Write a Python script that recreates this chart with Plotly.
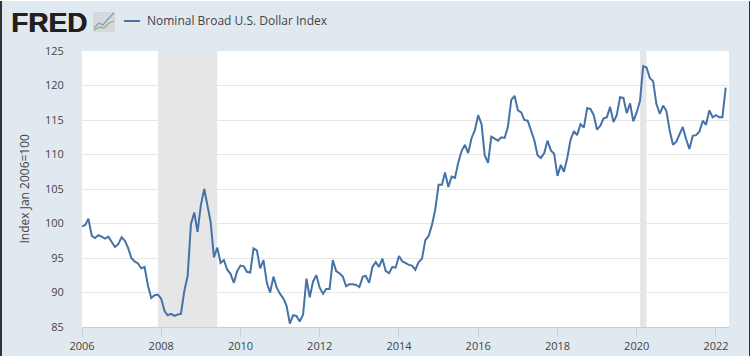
import plotly.graph_objects as go
import pandas as pd

start_month = "2006-01-01"
series_name = "Nominal Broad U.S. Dollar Index"
values = [
 99.6,99.8,100.7,98.2,97.9,98.3,98.1,97.8,98.1,97.4,96.6,97.0,
 98.0,97.5,96.5,95.0,94.5,94.2,93.5,93.7,91.0,89.2,89.6,89.7,
 89.1,87.3,86.7,86.9,86.6,86.8,86.9,90.2,92.4,99.9,101.6,98.8,
 102.7,105.0,102.6,100.2,95.1,96.5,94.3,94.7,93.3,92.7,91.4,93.1,
 93.9,93.8,93.0,92.9,96.4,96.1,93.5,94.7,91.4,90.0,92.3,90.7,
 89.8,89.1,88.1,85.5,86.7,86.6,85.8,86.8,92.0,89.3,91.6,92.5,
 90.7,89.8,90.5,90.5,94.7,93.1,92.8,92.3,90.9,91.2,91.2,91.1,
 90.8,92.3,92.4,91.4,93.7,94.4,93.7,94.9,93.1,92.8,93.7,93.6,
 95.3,94.5,94.3,94.0,93.9,93.3,94.4,94.9,97.6,98.2,99.8,102.0,
 105.6,105.6,107.4,105.3,106.8,106.6,108.8,110.5,111.4,110.2,112.4,113.5,
 115.7,114.4,109.9,108.8,112.6,112.3,112.0,112.5,112.4,114.0,117.9,118.5,
 116.4,116.1,115.0,114.9,113.4,112.1,109.9,109.5,110.2,112.0,110.6,110.1,
 106.9,108.5,107.5,109.5,112.1,113.4,112.8,114.4,113.9,116.7,116.6,115.7,
 113.6,114.2,115.2,115.4,116.9,114.7,115.7,118.3,118.2,116.0,117.4,114.8,
 116.1,117.8,122.8,122.6,121.1,120.6,117.3,115.9,117.1,116.3,113.4,111.4,
 111.9,113.0,114.0,112.2,110.8,112.7,112.8,113.3,114.9,114.3,116.4,115.4,
 115.7,115.4,115.4,119.7,
]
dates = pd.date_range(start_month, periods=len(values), freq="MS")
recessions = [("2007-12-01", "2009-06-01"), ("2020-02-01", "2020-04-01")]
tick_years = list(range(2006, 2023, 2))
y_ticks = [85, 90, 95, 100, 105, 110, 115, 120, 125]
y_title = "Index Jan 2006=100"

W, H = 750, 356
ML, MR, MT, MB = 82, 21, 51, 29
PW, PH = W - ML - MR, H - MT - MB
def px(x): return (x - ML) / PW
def py(y): return 1 - (y - MT) / PH

BG = "#E1E9F0"
TXT = "#444444"
LINE = "#4572A7"
fig = go.Figure()
fig.add_trace(go.Scatter(x=dates, y=values, mode="lines", name=series_name,
                         line=dict(color=LINE, width=2), showlegend=False))

def pshape(**kw):
    return dict(xref="paper", yref="paper", **kw)

def path(points):
    return "M " + " L ".join(f"{px(x):.5f} {py(y):.5f}" for x, y in points)

deco = [
    pshape(type="rect", x0=px(0), x1=px(2), y0=py(0), y1=py(H), fillcolor="#333333", line=dict(width=0)),
    pshape(type="rect", x0=px(749), x1=px(750), y0=py(0), y1=py(H), fillcolor="#333333", line=dict(width=0)),
    pshape(type="rect", x0=px(0), x1=px(W), y0=py(0), y1=py(1), fillcolor="#FFFFFF", line=dict(width=0)),
    pshape(type="rect", x0=px(93), x1=px(115), y0=py(12), y1=py(32), fillcolor="#D5D9DB", line=dict(width=0)),
    pshape(type="path", path=path([(94, 28), (99, 23), (103, 25), (108, 19), (114, 13)]),
           line=dict(color="#7F9DB9", width=1.2)),
    pshape(type="path", path=path([(94, 30), (100, 27), (104, 28), (109, 23), (114, 21)]),
           line=dict(color="#8FB07A", width=1.2)),
    pshape(type="line", x0=px(124), x1=px(140), y0=py(21), y1=py(21), line=dict(color=LINE, width=2)),
]

fig.update_layout(
    width=W, height=H, autosize=False,
    paper_bgcolor=BG, plot_bgcolor="white",
    margin=dict(l=ML, r=MR, t=MT, b=MB),
    font=dict(family="Open Sans", size=12, color=TXT),
    showlegend=False,
    shapes=deco,
    annotations=[
        dict(text="<b>FRED</b>", xref="paper", yref="paper", x=px(8.5), y=py(22.5), xanchor="left",
             yanchor="middle", showarrow=False,
             font=dict(family="Liberation Sans", size=28, color="#231F20", shadow="0.6px 0 0 #231F20")),
        dict(text=series_name, xref="paper", yref="paper", x=px(145), y=py(21), xanchor="left",
             yanchor="middle", showarrow=False, font=dict(size=12, color=TXT)),
        dict(text=y_title, xref="paper", yref="paper", x=px(24), y=py(188.5), xanchor="center",
             yanchor="middle", textangle=-90, showarrow=False, font=dict(size=12, color=TXT)),
    ],
    xaxis=dict(type="date", range=[dates[0], "2022-05-01"], tickmode="array", automargin=False,
               tickvals=[f"{y}-01-01" for y in tick_years], ticktext=[str(y) for y in tick_years],
               showgrid=False, ticks="outside", ticklen=9, tickcolor="#C0D0E0", tickwidth=1,
               showline=True, linecolor="#C0D0E0", tickfont=dict(size=11, color=TXT)),
    yaxis=dict(range=[85, 125], tickmode="array", tickvals=y_ticks, showgrid=True, automargin=False,
               gridcolor="#E6E6E6", gridwidth=1, zeroline=False, ticks="outside", ticklen=15,
               tickcolor="rgba(0,0,0,0)",
               tickfont=dict(size=11, color=TXT)),
)
for a, b in recessions:
    fig.add_vrect(x0=a, x1=b, fillcolor="#E6E6E6", opacity=1, line_width=0, layer="below")

fig.write_html("out.html", config=dict(displayModeBar=False),
               post_script="document.body.style.margin='0';document.body.style.overflow='hidden';")
